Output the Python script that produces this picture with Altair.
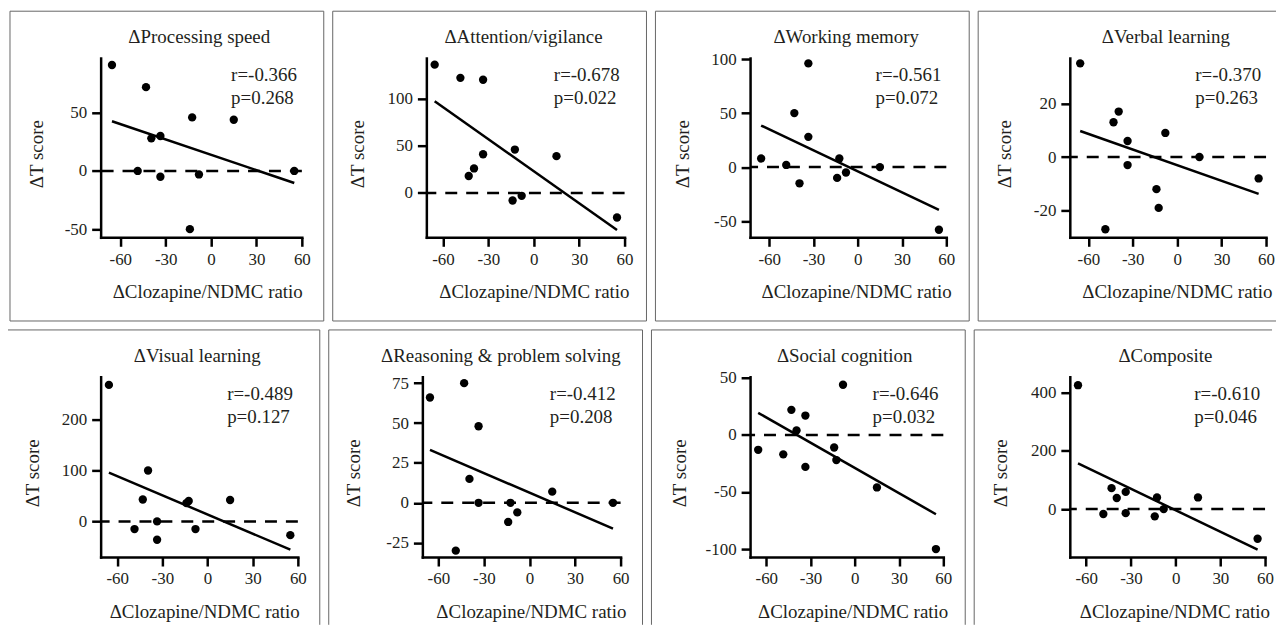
import altair as alt
import pandas as pd

# ---- data ----
x_ratio = [-65.5, -48.5, -43, -39.5, -33.5, -33.5, -14, -12.5, -8, 15, 55]

titles = ["ΔProcessing speed", "ΔAttention/vigilance", "ΔWorking memory", "ΔVerbal learning",
          "ΔVisual learning", "ΔReasoning & problem solving", "ΔSocial cognition", "ΔComposite"]

processing_speed = [91, 0, 72, 28, 30, -5, -50, 46, -3, 44, 0]
attention_vigilance = [136, 122, 18, 26, 120, 41, -8, 46, -3, 39, -26]
working_memory = [8, 2, 50, -15, 96, 28, -10, 8, -5, 0, -58]
verbal_learning = [35, -27, 13, 17, 6, -3, -12, -19, 9, 0, -8]
visual_learning = [268, -15, 43, 100, 0, -36, 36, 40, -15, 42, -27]
reasoning = [66, -30, 75, 15, 48, 0, -12, 0, -6, 7, 0]
social_cognition = [-13, -17, 22, 4, 17, -28, -11, -22, 44, -46, -100]
composite = [426, -17, 72, 38, 59, -14, -25, 40, 0, 40, -102]

series = [processing_speed, attention_vigilance, working_memory, verbal_learning,
          visual_learning, reasoning, social_cognition, composite]

r_labels = ["r=-0.366", "r=-0.678", "r=-0.561", "r=-0.370",
            "r=-0.489", "r=-0.412", "r=-0.646", "r=-0.610"]
p_labels = ["p=0.268", "p=0.022", "p=0.072", "p=0.263",
            "p=0.127", "p=0.208", "p=0.032", "p=0.046"]

x_ticks = [-60, -30, 0, 30, 60]
y_ticks = [[-50, 0, 50], [0, 50, 100], [-50, 0, 50, 100], [-20, 0, 20],
           [0, 100, 200], [-25, 0, 25, 50, 75], [-100, -50, 0, 50], [0, 200, 400]]
y_domains = [[-57, 97], [-47, 143], [-65, 101], [-30, 37],
             [-70, 284], [-34, 79], [-107, 51], [-165, 455]]
x_mins = [-73, -71, -73, -72.5, -71, -70.5, -71, -71]

# ---- layout / style ----
FONT = "Liberation Serif"
TXT = "#231f20"
plot_w = [202, 199, 197, 197, 198, 199, 194, 196]
plot_h = [180, 180, 180, 180, 181, 181, 181, 181]
left_off = [91, 94, 95, 92, 95, 94, 99, 96]
top_off = 47
box_w = [315, 315, 315, 299]     # last column is cut by the page edge
box_h = [311, 296]               # second row is cut by the page edge
ytitle_x = [-58, -63, -62, -60, -62, -63, -65, -64]
xtitle_dx = [6, 8.5, 8, 9, 5, 9.5, 6, 7]
title_align = ["center"] * 5 + ["right"] + ["center"] * 2

NEG_FIX = "replace(datum.label, '\u2212', '-')"


def frame_edges(i):
    col, row = i % 4, i // 4
    L, T = -left_off[i], -top_off
    R, B = box_w[col] - left_off[i], box_h[row] - top_off
    edges = [(L, R, T, T), (L, L, T, B)]
    if col < 3:
        edges.append((R, R, T, B))
    if row < 1:
        edges.append((L, R, B, B))
    return pd.DataFrame(edges, columns=["x1", "x2", "y1", "y2"])


def panel(i):
    w, h = plot_w[i], plot_h[i]
    df = pd.DataFrame({"x": x_ratio, "y": series[i]})
    ann = pd.DataFrame({"r": [r_labels[i]], "p": [p_labels[i]], "t": [titles[i]]})
    xs = alt.Scale(domain=[x_mins[i], 60], nice=False, zero=False)
    ys = alt.Scale(domain=y_domains[i], nice=False, zero=False)
    xax = alt.Axis(values=x_ticks, title="ΔClozapine/NDMC ratio", titleX=w / 2 + xtitle_dx[i],
                   titleY=60.5, titleBaseline="alphabetic", titleAlign="center", labelPadding=5,
                   labelExpr=NEG_FIX)
    yax = alt.Axis(values=y_ticks[i], title="ΔT score", titleX=ytitle_x[i], titleY=h / 2 + 6,
                   titleAngle=270, titleBaseline="alphabetic", titleAlign="center", labelPadding=5,
                   labelExpr=NEG_FIX)

    frame = alt.Chart(frame_edges(i)).mark_rule(color="#666666", strokeWidth=1).encode(
        x=alt.X("x1:Q", scale=None), x2="x2:Q",
        y=alt.Y("y1:Q", scale=None), y2="y2:Q")
    zero = alt.Chart(ann).mark_rule(color="black", strokeWidth=2.5, strokeDash=[12, 9]).encode(
        y=alt.datum(0, type="quantitative"))
    reg = alt.Chart(df).transform_regression("x", "y").mark_line(
        color="black", strokeWidth=2.5).encode(x="x:Q", y="y:Q")
    pts = alt.Chart(df).mark_circle(size=70, color="black", opacity=1).encode(
        x=alt.X("x:Q", scale=xs, axis=xax), y=alt.Y("y:Q", scale=ys, axis=yax))
    rtxt = alt.Chart(ann).mark_text(font=FONT, fontSize=19, color=TXT, align="left",
                                   baseline="middle").encode(
        text="r:N", x=alt.value(w - 71), y=alt.value(17))
    ptxt = alt.Chart(ann).mark_text(font=FONT, fontSize=19, color=TXT, align="left",
                                   baseline="middle").encode(
        text="p:N", x=alt.value(w - 71), y=alt.value(40))
    tx = w if title_align[i] == "right" else w / 2 - 2
    ttl = alt.Chart(ann).mark_text(font=FONT, fontSize=19, color=TXT, align=title_align[i],
                                  baseline="alphabetic").encode(
        text="t:N", x=alt.value(tx), y=alt.value(-15))
    return alt.layer(pts, frame, zero, reg, rtxt, ptxt, ttl).properties(width=w, height=h)


charts = [panel(i) for i in range(8)]
row1 = alt.hconcat(*charts[:4], spacing=7)
row2 = alt.hconcat(*charts[4:], spacing=7)
chart = alt.vconcat(row1, row2, spacing=7).properties(
    padding={"left": -3, "top": 1, "right": 0, "bottom": 0}
).configure_axis(
    domainColor="black", domainWidth=2.5, domainCap="square", tickColor="black", tickWidth=2.5,
    tickSize=9, labelFont=FONT, labelFontSize=17, labelColor=TXT, labelFlush=False,
    labelOverlap=False, titleFont=FONT, titleFontSize=19, titleFontWeight="normal",
    titleColor=TXT, grid=False
).configure_axisX(labelAngle=0).configure_view(stroke=None)

chart.save("out.html", embed_options={"renderer": "svg", "actions": False})
